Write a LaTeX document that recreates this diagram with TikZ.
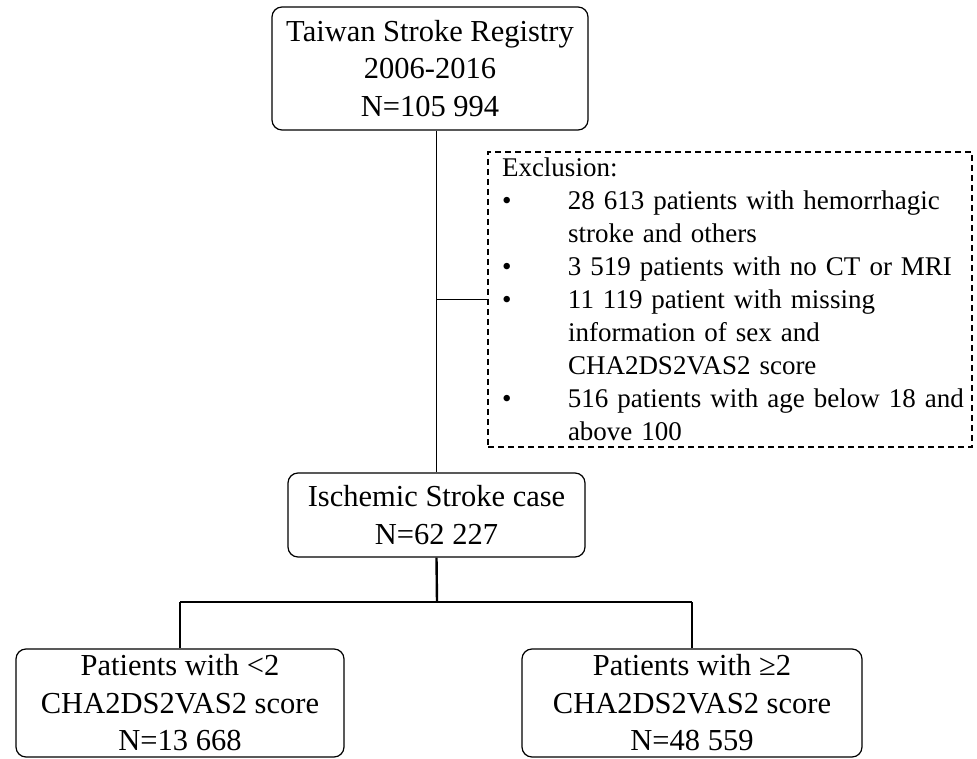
\documentclass[tikz,border=0pt]{standalone}
\usepackage{fontspec}
\setmainfont{Liberation Serif}
\newcommand{\boxfont}{\fontsize{30.5}{37.5}\selectfont}
\newcommand{\exclfont}{\fontsize{27}{33}\selectfont}
\newcommand{\bul}[1]{\mbox{\makebox[66pt][l]{\textbullet}#1}}
\newcommand{\ind}[1]{\mbox{\hspace*{66pt}#1}}

\begin{document}
\begin{tikzpicture}[x=1pt,y=-1pt]

      \useasboundingbox (0,0) rectangle (977,759);

      \begin{scope}[every node/.style={draw,rounded corners=10pt,align=center,line width=1.2pt,font=\boxfont,inner sep=0pt}]
        \node[minimum width=316pt,minimum height=123pt] (reg) at (430,68.5)  {Taiwan Stroke Registry\\2006-2016\\N=105 994};
        \node[minimum width=297pt,minimum height=84pt]  (isc) at (436.5,515) {Ischemic Stroke case\\N=62 227};
        \node[minimum width=328pt,minimum height=108pt] (low) at (180,703)   {Patients with <2\\CHA2DS2VAS2 score\\N=13 668};
        \node[minimum width=340pt,minimum height=108pt] (high) at (692,703)  {Patients with ≥2\\CHA2DS2VAS2 score\\N=48 559};
      \end{scope}

      \node[draw,dash pattern=on 6pt off 4pt,line width=1.1pt,minimum width=484pt,minimum height=295pt,
            text width=456pt,inner xsep=14pt,inner ysep=0pt,align=left,font=\exclfont]
            (excl) at (730,299.5) {\mbox{Exclusion:}\\
        \bul{28 613 patients with hemorrhagic}\\
        \ind{stroke and others}\\
        \bul{3 519 patients with no CT or MRI}\\
        \bul{11 119 patient with missing}\\
        \ind{information of sex and}\\
        \ind{CHA2DS2VAS2 score}\\
        \bul{516 patients with age below 18 and}\\
        \ind{above 100}};

      \coordinate (split) at (437,602);

      \begin{scope}[line width=1.2pt]
        \draw (isc.north) -- (isc.north |- reg.south);
        \draw (isc.north |- excl.west) -- (excl.west);
        \draw[line width=2.4pt] (isc.south) -- (split);
        \draw[line width=2pt] (low.north |- split) -- (high.north |- split);
        \draw (low.north) -- (low.north |- split);
        \draw (high.north) -- (high.north |- split);
      \end{scope}

    \end{tikzpicture}
\end{document}
